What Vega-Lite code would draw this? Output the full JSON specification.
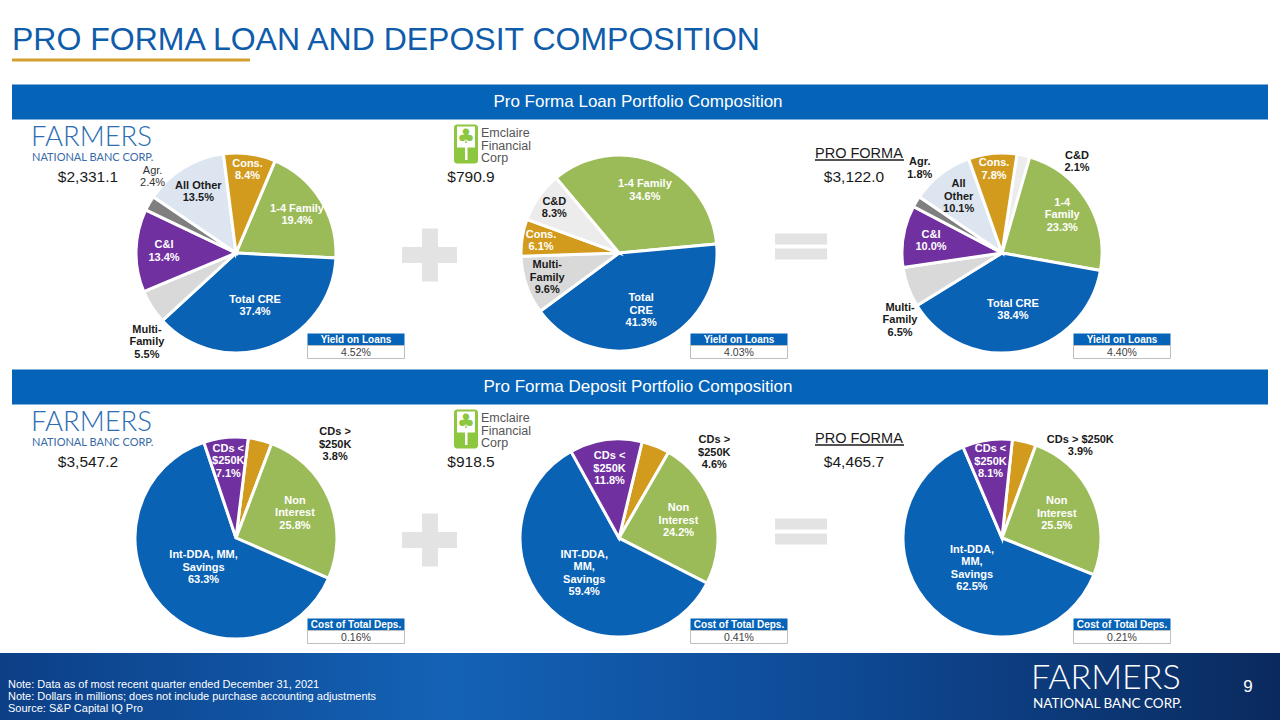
{
  "$schema": "https://vega.github.io/schema/vega-lite/v6.json",
  "width": 1280,
  "height": 720,
  "autosize": {"type": "none"},
  "padding": 0,
  "background": "#ffffff",
  "config": {"view": {"stroke": null}, "font": "Liberation Sans"},
  "datasets": {
    "slices": [
      {"portfolio": "Loans", "bank": "Farmers", "cat": "1-4 Family", "value": 19.4, "label": "1-4 Family\n19.4%"},
      {"portfolio": "Loans", "bank": "Farmers", "cat": "Total CRE", "value": 37.4, "label": "Total CRE\n37.4%"},
      {"portfolio": "Loans", "bank": "Farmers", "cat": "Multi-Family", "value": 5.5, "label": "Multi-\nFamily\n5.5%"},
      {"portfolio": "Loans", "bank": "Farmers", "cat": "C&I", "value": 13.4, "label": "C&I\n13.4%"},
      {"portfolio": "Loans", "bank": "Farmers", "cat": "Agr.", "value": 2.4, "label": "Agr.\n2.4%"},
      {"portfolio": "Loans", "bank": "Farmers", "cat": "All Other", "value": 13.5, "label": "All Other\n13.5%"},
      {"portfolio": "Loans", "bank": "Farmers", "cat": "Cons.", "value": 8.4, "label": "Cons.\n8.4%"},
      {"portfolio": "Loans", "bank": "Emclaire", "cat": "1-4 Family", "value": 34.6, "label": "1-4 Family\n34.6%"},
      {"portfolio": "Loans", "bank": "Emclaire", "cat": "Total CRE", "value": 41.3, "label": "Total\nCRE\n41.3%"},
      {"portfolio": "Loans", "bank": "Emclaire", "cat": "Multi-Family", "value": 9.6, "label": "Multi-\nFamily\n9.6%"},
      {"portfolio": "Loans", "bank": "Emclaire", "cat": "Cons.", "value": 6.1, "label": "Cons.\n6.1%"},
      {"portfolio": "Loans", "bank": "Emclaire", "cat": "C&D", "value": 8.3, "label": "C&D\n8.3%"},
      {"portfolio": "Loans", "bank": "Pro Forma", "cat": "C&D", "value": 2.1, "label": "C&D\n2.1%"},
      {"portfolio": "Loans", "bank": "Pro Forma", "cat": "1-4 Family", "value": 23.3, "label": "1-4\nFamily\n23.3%"},
      {"portfolio": "Loans", "bank": "Pro Forma", "cat": "Total CRE", "value": 38.4, "label": "Total CRE\n38.4%"},
      {"portfolio": "Loans", "bank": "Pro Forma", "cat": "Multi-Family", "value": 6.5, "label": "Multi-\nFamily\n6.5%"},
      {"portfolio": "Loans", "bank": "Pro Forma", "cat": "C&I", "value": 10.0, "label": "C&I\n10.0%"},
      {"portfolio": "Loans", "bank": "Pro Forma", "cat": "Agr.", "value": 1.8, "label": "Agr.\n1.8%"},
      {"portfolio": "Loans", "bank": "Pro Forma", "cat": "All Other", "value": 10.1, "label": "All\nOther\n10.1%"},
      {"portfolio": "Loans", "bank": "Pro Forma", "cat": "Cons.", "value": 7.8, "label": "Cons.\n7.8%"},
      {"portfolio": "Deposits", "bank": "Farmers", "cat": "CDs > $250K", "value": 3.8, "label": "CDs >\n$250K\n3.8%"},
      {"portfolio": "Deposits", "bank": "Farmers", "cat": "Non Interest", "value": 25.8, "label": "Non\nInterest\n25.8%"},
      {"portfolio": "Deposits", "bank": "Farmers", "cat": "Int-DDA", "value": 63.3, "label": "Int-DDA, MM,\nSavings\n63.3%"},
      {"portfolio": "Deposits", "bank": "Farmers", "cat": "CDs < $250K", "value": 7.1, "label": "CDs <\n$250K\n7.1%"},
      {"portfolio": "Deposits", "bank": "Emclaire", "cat": "CDs > $250K", "value": 4.6, "label": "CDs >\n$250K\n4.6%"},
      {"portfolio": "Deposits", "bank": "Emclaire", "cat": "Non Interest", "value": 24.2, "label": "Non\nInterest\n24.2%"},
      {"portfolio": "Deposits", "bank": "Emclaire", "cat": "Int-DDA", "value": 59.4, "label": "INT-DDA,\nMM,\nSavings\n59.4%"},
      {"portfolio": "Deposits", "bank": "Emclaire", "cat": "CDs < $250K", "value": 11.8, "label": "CDs <\n$250K\n11.8%"},
      {"portfolio": "Deposits", "bank": "Pro Forma", "cat": "CDs > $250K", "value": 3.9, "label": "CDs > $250K\n3.9%"},
      {"portfolio": "Deposits", "bank": "Pro Forma", "cat": "Non Interest", "value": 25.5, "label": "Non\nInterest\n25.5%"},
      {"portfolio": "Deposits", "bank": "Pro Forma", "cat": "Int-DDA", "value": 62.5, "label": "Int-DDA,\nMM,\nSavings\n62.5%"},
      {"portfolio": "Deposits", "bank": "Pro Forma", "cat": "CDs < $250K", "value": 8.1, "label": "CDs <\n$250K\n8.1%"}
    ],
    "sections": [
      {"portfolio": "Loans", "header": "Pro Forma Loan Portfolio Composition"},
      {"portfolio": "Deposits", "header": "Pro Forma Deposit Portfolio Composition"}
    ],
    "summary": [
      {"bank": "Farmers", "portfolio": "Loans", "total": 2331.1, "metric": "Yield on Loans", "rate": 0.0452},
      {"bank": "Emclaire", "portfolio": "Loans", "total": 790.9, "metric": "Yield on Loans", "rate": 0.0403},
      {"bank": "Pro Forma", "portfolio": "Loans", "total": 3122.0, "metric": "Yield on Loans", "rate": 0.0440},
      {"bank": "Farmers", "portfolio": "Deposits", "total": 3547.2, "metric": "Cost of Total Deps.", "rate": 0.0016},
      {"bank": "Emclaire", "portfolio": "Deposits", "total": 918.5, "metric": "Cost of Total Deps.", "rate": 0.0041},
      {"bank": "Pro Forma", "portfolio": "Deposits", "total": 4465.7, "metric": "Cost of Total Deps.", "rate": 0.0021}
    ]
  },
  "layer": [
    {
      "data": {"values": [{}]},
      "mark": {"type": "rect", "fill": {"gradient": "linear", "x1": 0, "y1": 0, "x2": 1, "y2": 0, "stops": [{"offset": 0, "color": "#0C3F86"}, {"offset": 0.35, "color": "#1462B6"}, {"offset": 0.65, "color": "#0E4A96"}, {"offset": 1, "color": "#0A2A5E"}]}},
      "encoding": {"x": {"value": 0}, "x2": {"value": 1280}, "y": {"value": 653}, "y2": {"value": 720}}
    },
    {
      "data": {"values": [{}]},
      "mark": {"type": "text", "align": "left", "baseline": "alphabetic", "fontSize": 32, "color": "#0F5CAB"},
      "encoding": {"x": {"value": 12}, "y": {"value": 50}, "text": {"value": "PRO FORMA LOAN AND DEPOSIT COMPOSITION"}}
    },
    {
      "data": {"values": [{}]},
      "mark": {"type": "rect", "color": "#D4A030"},
      "encoding": {"x": {"value": 12}, "x2": {"value": 250}, "y": {"value": 58.5}, "y2": {"value": 61.5}}
    },
    {
      "data": {"values": [{}]},
      "mark": {"type": "text", "align": "left", "baseline": "alphabetic", "fontSize": 11, "lineHeight": 12, "lineBreak": "\n", "color": "#ffffff"},
      "encoding": {"x": {"value": 8}, "y": {"value": 688}, "text": {"value": "Note: Data as of most recent quarter ended December 31, 2021\nNote: Dollars in millions; does not include purchase accounting adjustments\nSource: S&P Capital IQ Pro"}}
    },
    {
      "data": {"values": [{}]},
      "mark": {"type": "text", "align": "left", "baseline": "alphabetic", "font": "Lato", "fontWeight": 300, "fontSize": 34, "color": "#ffffff"},
      "encoding": {"x": {"value": 1031}, "y": {"value": 689}, "text": {"value": "FARMERS"}}
    },
    {
      "data": {"values": [{}]},
      "mark": {"type": "text", "align": "left", "baseline": "alphabetic", "font": "Lato", "fontSize": 13.5, "color": "#ffffff"},
      "encoding": {"x": {"value": 1033}, "y": {"value": 708}, "text": {"value": "NATIONAL BANC CORP."}}
    },
    {
      "data": {"values": [{}]},
      "mark": {"type": "text", "align": "center", "baseline": "alphabetic", "fontSize": 17, "color": "#ffffff"},
      "encoding": {"x": {"value": 1248}, "y": {"value": 692}, "text": {"value": "9"}}
    },
    {
      "data": {"name": "sections"},
      "mark": {"type": "rect", "color": "#0563B8", "height": 35, "yOffset": -151},
      "encoding": {"x": {"value": 12}, "x2": {"value": 1268}, "y": {"field": "portfolio", "type": "nominal", "scale": {"type": "point", "domain": ["Loans", "Deposits"], "range": [253, 538], "padding": 0}, "axis": null}}
    },
    {
      "data": {"name": "sections"},
      "mark": {"type": "text", "color": "#ffffff", "fontSize": 17, "align": "center", "baseline": "middle", "dy": -151},
      "encoding": {"x": {"value": 638}, "y": {"field": "portfolio", "type": "nominal", "scale": {"type": "point", "domain": ["Loans", "Deposits"], "range": [253, 538], "padding": 0}, "axis": null}, "text": {"field": "header", "type": "nominal"}}
    },
    {
      "data": {"name": "sections"},
      "mark": {"type": "rect", "color": "#E3E3E3", "height": 53, "yOffset": 2},
      "encoding": {"x": {"value": 422}, "x2": {"value": 438}, "y": {"field": "portfolio", "type": "nominal", "scale": {"type": "point", "domain": ["Loans", "Deposits"], "range": [253, 538], "padding": 0}, "axis": null}}
    },
    {
      "data": {"name": "sections"},
      "mark": {"type": "rect", "color": "#E3E3E3", "height": 16, "yOffset": 2},
      "encoding": {"x": {"value": 402}, "x2": {"value": 457}, "y": {"field": "portfolio", "type": "nominal", "scale": {"type": "point", "domain": ["Loans", "Deposits"], "range": [253, 538], "padding": 0}, "axis": null}}
    },
    {
      "data": {"name": "sections"},
      "mark": {"type": "rect", "color": "#E3E3E3", "height": 11, "yOffset": -14},
      "encoding": {"x": {"value": 775}, "x2": {"value": 827}, "y": {"field": "portfolio", "type": "nominal", "scale": {"type": "point", "domain": ["Loans", "Deposits"], "range": [253, 538], "padding": 0}, "axis": null}}
    },
    {
      "data": {"name": "sections"},
      "mark": {"type": "rect", "color": "#E3E3E3", "height": 11, "yOffset": 1},
      "encoding": {"x": {"value": 775}, "x2": {"value": 827}, "y": {"field": "portfolio", "type": "nominal", "scale": {"type": "point", "domain": ["Loans", "Deposits"], "range": [253, 538], "padding": 0}, "axis": null}}
    },
    {
      "data": {"name": "sections"},
      "mark": {"type": "text", "align": "left", "baseline": "alphabetic", "font": "Lato", "fontWeight": 300, "fontSize": 27.5, "color": "#2C6DB3", "dy": -107},
      "encoding": {"x": {"value": 31}, "y": {"field": "portfolio", "type": "nominal", "scale": {"type": "point", "domain": ["Loans", "Deposits"], "range": [253, 538], "padding": 0}, "axis": null}, "text": {"value": "FARMERS"}}
    },
    {
      "data": {"name": "sections"},
      "mark": {"type": "text", "align": "left", "baseline": "alphabetic", "font": "Lato", "fontSize": 11, "color": "#3A6BA8", "dy": -92},
      "encoding": {"x": {"value": 32}, "y": {"field": "portfolio", "type": "nominal", "scale": {"type": "point", "domain": ["Loans", "Deposits"], "range": [253, 538], "padding": 0}, "axis": null}, "text": {"value": "NATIONAL BANC CORP."}}
    },
    {
      "data": {"name": "sections"},
      "mark": {"type": "rect", "color": "#8DC63F", "height": 39, "yOffset": -109, "cornerRadius": 3},
      "encoding": {"x": {"value": 454}, "x2": {"value": 478}, "y": {"field": "portfolio", "type": "nominal", "scale": {"type": "point", "domain": ["Loans", "Deposits"], "range": [253, 538], "padding": 0}, "axis": null}}
    },
    {
      "data": {"name": "sections"},
      "mark": {"type": "rect", "color": "#ffffff", "height": 21, "yOffset": -116},
      "encoding": {"x": {"value": 457}, "x2": {"value": 475}, "y": {"field": "portfolio", "type": "nominal", "scale": {"type": "point", "domain": ["Loans", "Deposits"], "range": [253, 538], "padding": 0}, "axis": null}}
    },
    {
      "data": {"name": "sections"},
      "mark": {"type": "rect", "color": "#ffffff", "height": 22, "yOffset": -104},
      "encoding": {"x": {"value": 465}, "x2": {"value": 467.5}, "y": {"field": "portfolio", "type": "nominal", "scale": {"type": "point", "domain": ["Loans", "Deposits"], "range": [253, 538], "padding": 0}, "axis": null}}
    },
    {
      "data": {"name": "sections"},
      "mark": {"type": "text", "align": "center", "baseline": "middle", "fontSize": 20, "font": "DejaVu Sans", "color": "#8DC63F", "dy": -116},
      "encoding": {"x": {"value": 466}, "y": {"field": "portfolio", "type": "nominal", "scale": {"type": "point", "domain": ["Loans", "Deposits"], "range": [253, 538], "padding": 0}, "axis": null}, "text": {"value": "♣"}}
    },
    {
      "data": {"name": "sections"},
      "mark": {"type": "text", "align": "left", "baseline": "alphabetic", "fontSize": 12.5, "lineHeight": 12.5, "lineBreak": "\n", "color": "#555555", "dy": -116},
      "encoding": {"x": {"value": 481}, "y": {"field": "portfolio", "type": "nominal", "scale": {"type": "point", "domain": ["Loans", "Deposits"], "range": [253, 538], "padding": 0}, "axis": null}, "text": {"value": "Emclaire\nFinancial\nCorp"}}
    },
    {
      "data": {"name": "sections"},
      "mark": {"type": "text", "align": "left", "baseline": "alphabetic", "fontSize": 14.5, "color": "#1a1a1a", "dy": -95.5},
      "encoding": {"x": {"value": 815}, "y": {"field": "portfolio", "type": "nominal", "scale": {"type": "point", "domain": ["Loans", "Deposits"], "range": [253, 538], "padding": 0}, "axis": null}, "text": {"value": "PRO FORMA"}}
    },
    {
      "data": {"name": "sections"},
      "mark": {"type": "rect", "color": "#1a1a1a", "height": 1.3, "yOffset": -93},
      "encoding": {"x": {"value": 815}, "x2": {"value": 904}, "y": {"field": "portfolio", "type": "nominal", "scale": {"type": "point", "domain": ["Loans", "Deposits"], "range": [253, 538], "padding": 0}, "axis": null}}
    },
    {
      "data": {"name": "summary"},
      "encoding": {
        "x": {"field": "bank", "type": "nominal", "scale": {"type": "point", "domain": ["Farmers", "Emclaire", "Pro Forma"], "range": [236, 1002], "padding": 0}, "axis": null},
        "y": {"field": "portfolio", "type": "nominal", "scale": {"type": "point", "domain": ["Loans", "Deposits"], "range": [253, 538], "padding": 0}, "axis": null}
      },
      "layer": [
        {"mark": {"type": "text", "fontSize": 15.5, "color": "#1a1a1a", "align": "center", "baseline": "middle", "dx": -148, "dy": -76}, "encoding": {"text": {"field": "total", "type": "quantitative", "format": "$,.1f"}}},
        {"mark": {"type": "rect", "color": "#0563B8", "width": 97, "height": 12, "xOffset": 120, "yOffset": 86.5}},
        {"mark": {"type": "rect", "fill": "#ffffff", "stroke": "#BFBFBF", "strokeWidth": 1, "width": 97, "height": 13, "xOffset": 120, "yOffset": 99}},
        {"mark": {"type": "text", "fontSize": 10, "fontWeight": "bold", "color": "#ffffff", "align": "center", "baseline": "middle", "dx": 120, "dy": 86.5}, "encoding": {"text": {"field": "metric", "type": "nominal"}}},
        {"mark": {"type": "text", "fontSize": 10.5, "color": "#404040", "align": "center", "baseline": "middle", "dx": 120, "dy": 99.5}, "encoding": {"text": {"field": "rate", "type": "quantitative", "format": ".2%"}}}
      ]
    },
    {
      "data": {"name": "slices"},
      "transform": [{"filter": "datum.bank == 'Farmers' && datum.portfolio == 'Loans'"}, {"window": [{"op": "row_number", "as": "rank"}]}],
      "encoding": {
        "theta": {"field": "value", "type": "quantitative", "stack": true, "scale": {"range": [0.4014, 6.6846]}},
        "order": {"field": "rank", "type": "quantitative"},
        "x": {"field": "bank", "type": "nominal", "scale": {"type": "point", "domain": ["Farmers", "Emclaire", "Pro Forma"], "range": [236, 1002], "padding": 0}, "axis": null},
        "y": {"field": "portfolio", "type": "nominal", "scale": {"type": "point", "domain": ["Loans", "Deposits"], "range": [253, 538], "padding": 0}, "axis": null}
      },
      "layer": [
        {"mark": {"type": "arc", "outerRadius": 100, "stroke": "#ffffff", "strokeWidth": 3}, "encoding": {"color": {"field": "cat", "type": "nominal", "scale": {"domain": ["Total CRE", "1-4 Family", "Cons.", "All Other", "Agr.", "C&I", "Multi-Family", "C&D", "Int-DDA", "Non Interest", "CDs > $250K", "CDs < $250K"], "range": ["#0A62B5", "#9BBB59", "#D39B1E", "#DDE6F0", "#7F7F7F", "#7030A0", "#D9D9D9", "#ECECEC", "#0A62B5", "#9BBB59", "#D39B1E", "#7030A0"]}, "legend": null}}},
        {"mark": {"type": "text", "radius": 56, "dy": -6, "fontSize": 11, "fontWeight": "bold", "lineBreak": "\n", "lineHeight": 12.5}, "encoding": {"text": {"condition": {"test": "datum.value >= 36", "field": "label", "type": "nominal"}, "value": ""}, "color": {"value": "#ffffff"}}},
        {"mark": {"type": "text", "radius": 72, "dy": -6, "fontSize": 11, "fontWeight": "bold", "lineBreak": "\n", "lineHeight": 12.5}, "encoding": {"text": {"condition": {"test": "datum.value >= 10 && datum.value < 36", "field": "label", "type": "nominal"}, "value": ""}, "color": {"condition": {"test": "indexof(['Multi-Family','All Other','C&D'], datum.cat) >= 0", "value": "#1a1a1a"}, "value": "#ffffff"}}},
        {"mark": {"type": "text", "radius": 84, "dy": -6, "fontSize": 11, "fontWeight": "bold", "lineBreak": "\n", "lineHeight": 12.5}, "encoding": {"text": {"condition": {"test": "datum.value < 10 && (datum.value >= 7 || datum.cat == 'Cons.')", "field": "label", "type": "nominal"}, "value": ""}, "color": {"condition": {"test": "indexof(['Multi-Family','All Other','C&D'], datum.cat) >= 0", "value": "#1a1a1a"}, "value": "#ffffff"}}},
        {"mark": {"type": "text", "radius": 126, "thetaOffset": -0.216, "dy": -12.5, "fontSize": 11, "fontWeight": "bold", "lineBreak": "\n", "lineHeight": 12.5, "color": "#1a1a1a"}, "encoding": {"text": {"condition": {"test": "datum.cat == 'Multi-Family'", "field": "label", "type": "nominal"}, "value": ""}}},
        {"mark": {"type": "text", "radius": 113, "thetaOffset": 0.22, "dy": -6, "fontSize": 11, "lineBreak": "\n", "lineHeight": 12.5, "color": "#333333"}, "encoding": {"text": {"condition": {"test": "datum.cat == 'Agr.'", "field": "label", "type": "nominal"}, "value": ""}}}
      ]
    },
    {
      "data": {"name": "slices"},
      "transform": [{"filter": "datum.bank == 'Emclaire' && datum.portfolio == 'Loans'"}, {"window": [{"op": "row_number", "as": "rank"}]}],
      "encoding": {
        "theta": {"field": "value", "type": "quantitative", "stack": true, "scale": {"range": [-0.6981, 5.5851]}},
        "order": {"field": "rank", "type": "quantitative"},
        "x": {"field": "bank", "type": "nominal", "scale": {"type": "point", "domain": ["Farmers", "Emclaire", "Pro Forma"], "range": [236, 1002], "padding": 0}, "axis": null},
        "y": {"field": "portfolio", "type": "nominal", "scale": {"type": "point", "domain": ["Loans", "Deposits"], "range": [253, 538], "padding": 0}, "axis": null}
      },
      "layer": [
        {"mark": {"type": "arc", "outerRadius": 98, "stroke": "#ffffff", "strokeWidth": 3}, "encoding": {"color": {"field": "cat", "type": "nominal", "legend": null}}},
        {"mark": {"type": "text", "radius": 62, "dy": -12.5, "fontSize": 11, "fontWeight": "bold", "lineBreak": "\n", "lineHeight": 12.5}, "encoding": {"text": {"condition": {"test": "datum.value >= 36", "field": "label", "type": "nominal"}, "value": ""}, "color": {"value": "#ffffff"}}},
        {"mark": {"type": "text", "radius": 68, "dy": -6, "fontSize": 11, "fontWeight": "bold", "lineBreak": "\n", "lineHeight": 12.5}, "encoding": {"text": {"condition": {"test": "datum.value >= 10 && datum.value < 36", "field": "label", "type": "nominal"}, "value": ""}, "color": {"value": "#ffffff"}}},
        {"mark": {"type": "text", "radius": 76, "dy": -12.5, "fontSize": 11, "fontWeight": "bold", "lineBreak": "\n", "lineHeight": 12.5, "color": "#1a1a1a"}, "encoding": {"text": {"condition": {"test": "datum.cat == 'Multi-Family'", "field": "label", "type": "nominal"}, "value": ""}}},
        {"mark": {"type": "text", "radius": 79, "dy": -6, "fontSize": 11, "fontWeight": "bold", "lineBreak": "\n", "lineHeight": 12.5}, "encoding": {"text": {"condition": {"test": "datum.value < 10 && datum.cat != 'Multi-Family'", "field": "label", "type": "nominal"}, "value": ""}, "color": {"condition": {"test": "datum.cat == 'C&D'", "value": "#1a1a1a"}, "value": "#ffffff"}}}
      ]
    },
    {
      "data": {"name": "slices"},
      "transform": [{"filter": "datum.bank == 'Pro Forma' && datum.portfolio == 'Loans'"}, {"window": [{"op": "row_number", "as": "rank"}]}],
      "encoding": {
        "theta": {"field": "value", "type": "quantitative", "stack": true, "scale": {"range": [0.1501, 6.4333]}},
        "order": {"field": "rank", "type": "quantitative"},
        "x": {"field": "bank", "type": "nominal", "scale": {"type": "point", "domain": ["Farmers", "Emclaire", "Pro Forma"], "range": [236, 1002], "padding": 0}, "axis": null},
        "y": {"field": "portfolio", "type": "nominal", "scale": {"type": "point", "domain": ["Loans", "Deposits"], "range": [253, 538], "padding": 0}, "axis": null}
      },
      "layer": [
        {"mark": {"type": "arc", "outerRadius": 100, "stroke": "#ffffff", "strokeWidth": 3}, "encoding": {"color": {"field": "cat", "type": "nominal", "legend": null}}},
        {"mark": {"type": "text", "radius": 58, "dy": -6, "fontSize": 11, "fontWeight": "bold", "lineBreak": "\n", "lineHeight": 12.5}, "encoding": {"text": {"condition": {"test": "datum.value >= 36", "field": "label", "type": "nominal"}, "value": ""}, "color": {"value": "#ffffff"}}},
        {"mark": {"type": "text", "radius": 72, "dy": -6, "fontSize": 11, "fontWeight": "bold", "lineBreak": "\n", "lineHeight": 12.5}, "encoding": {"text": {"condition": {"test": "datum.cat == 'C&I'", "field": "label", "type": "nominal"}, "value": ""}, "color": {"value": "#ffffff"}}},
        {"mark": {"type": "text", "radius": 71, "dy": -12.5, "fontSize": 11, "fontWeight": "bold", "lineBreak": "\n", "lineHeight": 12.5}, "encoding": {"text": {"condition": {"test": "datum.cat == '1-4 Family' || datum.cat == 'All Other'", "field": "label", "type": "nominal"}, "value": ""}, "color": {"condition": {"test": "datum.cat == 'All Other'", "value": "#1a1a1a"}, "value": "#ffffff"}}},
        {"mark": {"type": "text", "radius": 84, "dy": -6, "fontSize": 11, "fontWeight": "bold", "lineBreak": "\n", "lineHeight": 12.5}, "encoding": {"text": {"condition": {"test": "datum.cat == 'Cons.'", "field": "label", "type": "nominal"}, "value": ""}, "color": {"value": "#ffffff"}}},
        {"mark": {"type": "text", "radius": 122, "thetaOffset": -0.232, "dy": -12.5, "fontSize": 11, "fontWeight": "bold", "lineBreak": "\n", "lineHeight": 12.5, "color": "#1a1a1a"}, "encoding": {"text": {"condition": {"test": "datum.cat == 'Multi-Family'", "field": "label", "type": "nominal"}, "value": ""}}},
        {"mark": {"type": "text", "radius": 118, "thetaOffset": 0.26, "dy": -6, "fontSize": 11, "fontWeight": "bold", "lineBreak": "\n", "lineHeight": 12.5, "color": "#1a1a1a"}, "encoding": {"text": {"condition": {"test": "datum.cat == 'Agr.'", "field": "label", "type": "nominal"}, "value": ""}}},
        {"mark": {"type": "text", "radius": 118, "thetaOffset": 0.473, "dy": -6, "fontSize": 11, "fontWeight": "bold", "lineBreak": "\n", "lineHeight": 12.5, "color": "#1a1a1a"}, "encoding": {"text": {"condition": {"test": "datum.cat == 'C&D'", "field": "label", "type": "nominal"}, "value": ""}}}
      ]
    },
    {
      "data": {"name": "slices"},
      "transform": [{"filter": "datum.bank == 'Farmers' && datum.portfolio == 'Deposits'"}, {"window": [{"op": "row_number", "as": "rank"}]}],
      "encoding": {
        "theta": {"field": "value", "type": "quantitative", "stack": true, "scale": {"range": [0.1222, 6.4054]}},
        "order": {"field": "rank", "type": "quantitative"},
        "x": {"field": "bank", "type": "nominal", "scale": {"type": "point", "domain": ["Farmers", "Emclaire", "Pro Forma"], "range": [236, 1002], "padding": 0}, "axis": null},
        "y": {"field": "portfolio", "type": "nominal", "scale": {"type": "point", "domain": ["Loans", "Deposits"], "range": [253, 538], "padding": 0}, "axis": null}
      },
      "layer": [
        {"mark": {"type": "arc", "outerRadius": 101, "stroke": "#ffffff", "strokeWidth": 3}, "encoding": {"color": {"field": "cat", "type": "nominal", "legend": null}}},
        {"mark": {"type": "text", "radius": 44, "dy": -12.5, "fontSize": 11, "fontWeight": "bold", "lineBreak": "\n", "lineHeight": 12.5, "color": "#ffffff"}, "encoding": {"text": {"condition": {"test": "datum.value >= 50", "field": "label", "type": "nominal"}, "value": ""}}},
        {"mark": {"type": "text", "radius": 64, "dy": -12.5, "fontSize": 11, "fontWeight": "bold", "lineBreak": "\n", "lineHeight": 12.5, "color": "#ffffff"}, "encoding": {"text": {"condition": {"test": "datum.value >= 10 && datum.value < 50", "field": "label", "type": "nominal"}, "value": ""}}},
        {"mark": {"type": "text", "radius": 77, "dy": -12.5, "fontSize": 11, "fontWeight": "bold", "lineBreak": "\n", "lineHeight": 12.5, "color": "#ffffff"}, "encoding": {"text": {"condition": {"test": "datum.value < 10 && datum.cat != 'CDs > $250K'", "field": "label", "type": "nominal"}, "value": ""}}},
        {"mark": {"type": "text", "radius": 136, "thetaOffset": 0.575, "dy": -12.5, "fontSize": 11, "fontWeight": "bold", "lineBreak": "\n", "lineHeight": 12.5, "color": "#1a1a1a"}, "encoding": {"text": {"condition": {"test": "datum.cat == 'CDs > $250K'", "field": "label", "type": "nominal"}, "value": ""}}}
      ]
    },
    {
      "data": {"name": "slices"},
      "transform": [{"filter": "datum.bank == 'Emclaire' && datum.portfolio == 'Deposits'"}, {"window": [{"op": "row_number", "as": "rank"}]}],
      "encoding": {
        "theta": {"field": "value", "type": "quantitative", "stack": true, "scale": {"range": [0.2356, 6.5188]}},
        "order": {"field": "rank", "type": "quantitative"},
        "x": {"field": "bank", "type": "nominal", "scale": {"type": "point", "domain": ["Farmers", "Emclaire", "Pro Forma"], "range": [236, 1002], "padding": 0}, "axis": null},
        "y": {"field": "portfolio", "type": "nominal", "scale": {"type": "point", "domain": ["Loans", "Deposits"], "range": [253, 538], "padding": 0}, "axis": null}
      },
      "layer": [
        {"mark": {"type": "arc", "outerRadius": 99, "stroke": "#ffffff", "strokeWidth": 3}, "encoding": {"color": {"field": "cat", "type": "nominal", "legend": null}}},
        {"mark": {"type": "text", "radius": 50, "dy": -19, "fontSize": 11, "fontWeight": "bold", "lineBreak": "\n", "lineHeight": 12.5, "color": "#ffffff"}, "encoding": {"text": {"condition": {"test": "datum.value >= 50", "field": "label", "type": "nominal"}, "value": ""}}},
        {"mark": {"type": "text", "radius": 62, "dy": -12.5, "fontSize": 11, "fontWeight": "bold", "lineBreak": "\n", "lineHeight": 12.5, "color": "#ffffff"}, "encoding": {"text": {"condition": {"test": "datum.cat == 'Non Interest'", "field": "label", "type": "nominal"}, "value": ""}}},
        {"mark": {"type": "text", "radius": 70, "dy": -12.5, "fontSize": 11, "fontWeight": "bold", "lineBreak": "\n", "lineHeight": 12.5, "color": "#ffffff"}, "encoding": {"text": {"condition": {"test": "datum.cat == 'CDs < $250K'", "field": "label", "type": "nominal"}, "value": ""}}},
        {"mark": {"type": "text", "radius": 128, "thetaOffset": 0.46, "dy": -12.5, "fontSize": 11, "fontWeight": "bold", "lineBreak": "\n", "lineHeight": 12.5, "color": "#1a1a1a"}, "encoding": {"text": {"condition": {"test": "datum.cat == 'CDs > $250K'", "field": "label", "type": "nominal"}, "value": ""}}}
      ]
    },
    {
      "data": {"name": "slices"},
      "transform": [{"filter": "datum.bank == 'Pro Forma' && datum.portfolio == 'Deposits'"}, {"window": [{"op": "row_number", "as": "rank"}]}],
      "encoding": {
        "theta": {"field": "value", "type": "quantitative", "stack": true, "scale": {"range": [0.1047, 6.3879]}},
        "order": {"field": "rank", "type": "quantitative"},
        "x": {"field": "bank", "type": "nominal", "scale": {"type": "point", "domain": ["Farmers", "Emclaire", "Pro Forma"], "range": [236, 1002], "padding": 0}, "axis": null},
        "y": {"field": "portfolio", "type": "nominal", "scale": {"type": "point", "domain": ["Loans", "Deposits"], "range": [253, 538], "padding": 0}, "axis": null}
      },
      "layer": [
        {"mark": {"type": "arc", "outerRadius": 99, "stroke": "#ffffff", "strokeWidth": 3}, "encoding": {"color": {"field": "cat", "type": "nominal", "legend": null}}},
        {"mark": {"type": "text", "radius": 43, "dy": -19, "fontSize": 11, "fontWeight": "bold", "lineBreak": "\n", "lineHeight": 12.5, "color": "#ffffff"}, "encoding": {"text": {"condition": {"test": "datum.value >= 50", "field": "label", "type": "nominal"}, "value": ""}}},
        {"mark": {"type": "text", "radius": 60, "dy": -12.5, "fontSize": 11, "fontWeight": "bold", "lineBreak": "\n", "lineHeight": 12.5, "color": "#ffffff"}, "encoding": {"text": {"condition": {"test": "datum.cat == 'Non Interest'", "field": "label", "type": "nominal"}, "value": ""}}},
        {"mark": {"type": "text", "radius": 77, "dy": -12.5, "fontSize": 11, "fontWeight": "bold", "lineBreak": "\n", "lineHeight": 12.5, "color": "#ffffff"}, "encoding": {"text": {"condition": {"test": "datum.cat == 'CDs < $250K'", "field": "label", "type": "nominal"}, "value": ""}}},
        {"mark": {"type": "text", "radius": 121, "thetaOffset": 0.477, "dy": -6, "fontSize": 11, "fontWeight": "bold", "lineBreak": "\n", "lineHeight": 12.5, "color": "#1a1a1a"}, "encoding": {"text": {"condition": {"test": "datum.cat == 'CDs > $250K'", "field": "label", "type": "nominal"}, "value": ""}}}
      ]
    }
  ],
  "resolve": {"scale": {"theta": "independent"}}
}
